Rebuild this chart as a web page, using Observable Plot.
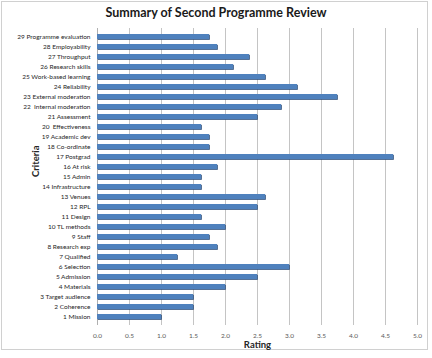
<!DOCTYPE html>
<html>
<head>
<meta charset="utf-8">
<script src="https://cdn.jsdelivr.net/npm/d3@7"></script>
<script src="https://cdn.jsdelivr.net/npm/@observablehq/plot@0.6"></script>
<style>
  body { margin: 0; background: #fff; font-family: Lato, "Liberation Sans", sans-serif; }
  #wrap { position: relative; width: 432px; height: 358px; }
  #frame { position: absolute; left: 1px; top: 1px; width: 427px; height: 349px; border: 1px solid #d0d0d0; box-sizing: border-box; }
  #title { position: absolute; left: 0; top: 5px; width: 432px; height: 17px; text-align: center;
           font: bold 12.5px Lato, "Liberation Sans", sans-serif; color: #1a1a1a; }
  #chart { position: absolute; left: 0; top: 22px; }
</style>
</head>
<body>
<div id="wrap">
  <div id="frame"></div>
  <div id="title">Summary of Second Programme Review</div>
  <div id="chart"></div>
</div>
<script>
// Review criteria, listed from 1 (bottom) to 29 (top)
const criteria = [
  "1 Mission", "2 Coherence", "3 Target audience", "4 Materials", "5 Admission",
  "6 Selection", "7 Qualified", "8 Research exp", "9 Staff", "10 TL methods",
  "11 Design", "12 RPL", "13 Venues", "14 Infrastructure", "15 Admin",
  "16 At risk", "17 Postgrad", "18 Co-ordinate", "19 Academic dev", "20  Effectiveness",
  "21 Assessment", "22  Internal moderation", "23 External moderation", "24 Reliability",
  "25 Work-based learning", "26 Research skills", "27 Throughput", "28 Employability",
  "29 Programme evaluation"
];

// Average rating for each criterion
const ratings = [
  1.0, 1.5, 1.5, 2.0, 2.5,
  3.0, 1.25, 1.875, 1.75, 2.0,
  1.625, 2.5, 2.625, 1.625, 1.625,
  1.875, 4.625, 1.75, 1.75, 1.625,
  2.5, 2.875, 3.75, 3.125,
  2.625, 2.125, 2.375, 1.875,
  1.75
];

const xTicks = [0, 0.5, 1, 1.5, 2, 2.5, 3, 3.5, 4, 4.5, 5];

const data = criteria.map((c, i) => ({criterion: c, rating: ratings[i]}));
const order = criteria.slice().reverse();

const plot = Plot.plot({
  width: 432,
  height: 336,
  marginTop: 6,
  marginBottom: 33,
  marginLeft: 97,
  marginRight: 15,
  style: {fontFamily: "Lato, 'Liberation Sans', sans-serif", fontSize: "6.5px", color: "#404040", overflow: "visible"},
  x: {domain: [0, 5], ticks: xTicks, tickFormat: d3.format(".1f")},
  y: {domain: order, padding: 0.48},
  marks: [
    Plot.ruleX(xTicks.slice(1), {stroke: "#c4c4c4", strokeWidth: 1}),
    Plot.ruleX([0], {stroke: "#b0b0b0", strokeWidth: 1}),
    // darker edge giving the bars their bevelled look
    Plot.barX(data, {x: "rating", y: "criterion", fill: "#2f4f7a", dx: 0.8, dy: 0.8}),
    Plot.barX(data, {x: "rating", y: "criterion", fill: "#4f81bd"}),
    Plot.axisX({ticks: xTicks, tickFormat: d3.format(".1f"), tickSize: 0, tickPadding: 8,
                fill: "#595959", label: null}),
    Plot.axisY({tickSize: 0, tickPadding: 7, fill: "#262626", label: null}),
    Plot.text(["Rating"], {frameAnchor: "bottom", dy: 22, fontWeight: "bold", fontSize: 9.5, fill: "#262626"}),
    Plot.text(["Criteria"], {frameAnchor: "left", dx: -62, rotate: -90, fontWeight: "bold", fontSize: 9.5, fill: "#262626"})
  ]
});
document.getElementById("chart").appendChild(plot);
</script>
</body>
</html>
